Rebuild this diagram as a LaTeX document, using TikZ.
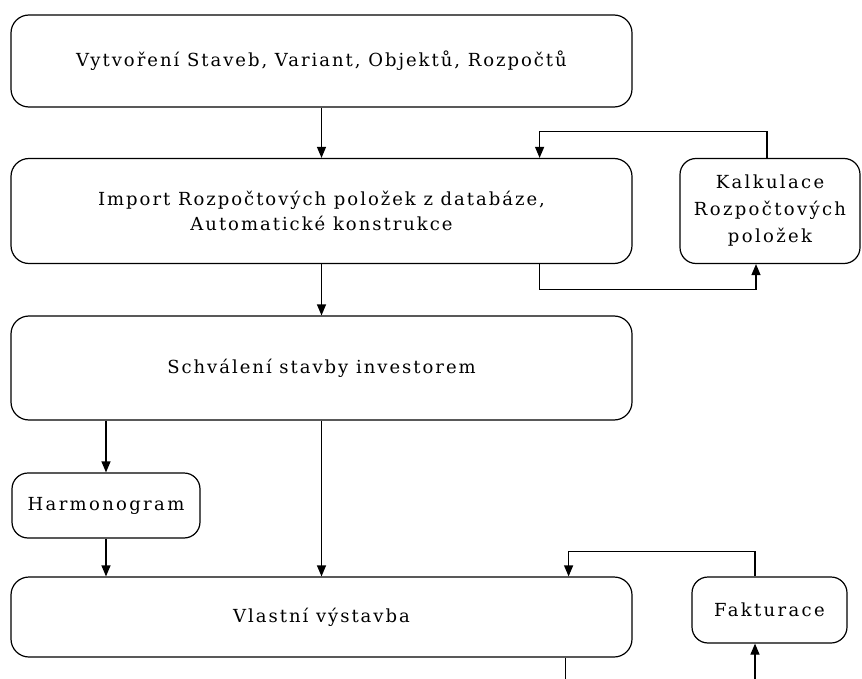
\documentclass[tikz,border=0pt]{standalone}
\usepackage{fontspec}
\setmainfont{DejaVu Serif}
\usetikzlibrary{arrows.meta}

\tikzset{
  krok/.style={draw, line width=1.2pt, rounded corners=18pt, align=center,
    inner sep=0pt, font=\fontsize{18}{25}\selectfont\addfontfeature{LetterSpace=11}},
  maly/.style={krok, rounded corners=16pt,
    font=\fontsize{18}{27}\selectfont\addfontfeature{LetterSpace=13}},
}

\begin{document}
\begin{tikzpicture}[x=1pt, y=-1pt, >={Triangle[length=11pt,width=9pt]}, line width=1.2pt]
  \useasboundingbox (0,0) rectangle (862,679);
  % hlavni kroky
  \node [krok, minimum width=621, minimum height=92] (vytvor) at (321.5,61)
    {Vytvoření Staveb, Variant, Objektů, Rozpočtů};
  \node [krok, minimum width=621, minimum height=105] (import) at (321.5,211)
    {Import Rozpočtových položek z databáze,\\Automatické konstrukce};
  \node [krok, minimum width=621, minimum height=104] (schval) at (321.5,368)
    {Schválení stavby investorem};
  \node [krok, minimum width=621, minimum height=80] (vlastni) at (321.5,617)
    {Vlastní výstavba};
  % vedlejsi kroky
  \node [maly, minimum width=180, minimum height=105] (kalk) at (770,211)
    {Kalkulace\\Rozpočtových\\položek};
  \node [maly, minimum width=188, minimum height=65] (harmon) at (106,505.5)
    {Harmonogram};
  \node [maly, minimum width=155, minimum height=66] (faktur) at (769.5,610)
    {Fakturace};
  \coordinate (patA) at ([xshift=-67]vlastni.south east);
  \coordinate (dolA) at (565,679);
  \coordinate (dolB) at (755,679);

  \draw [->] (vytvor.south) -- (import.north);
  \draw [->] ([xshift=-3]kalk.north) -- ++(0,-26) -| ([xshift=-93]import.north east);
  \draw [->] ([xshift=-93]import.south east) -- ++(0,25) -| ([xshift=-14]kalk.south);
  \draw [->] (import.south) -- (schval.north);
  \draw [->] (schval.south -| harmon.north) -- (harmon.north);
  \draw [->] (harmon.south) -- (harmon.south |- vlastni.north);
  \draw [->] (schval.south) -- (vlastni.north);
  \draw [->] ([xshift=-14.5]faktur.north) -- ++(0,-25) -| ([xshift=-64]vlastni.north east);
  \draw (patA) -- (patA |- dolA);
  \draw [->] (dolB) -- (dolB |- faktur.south);
\end{tikzpicture}
\end{document}
